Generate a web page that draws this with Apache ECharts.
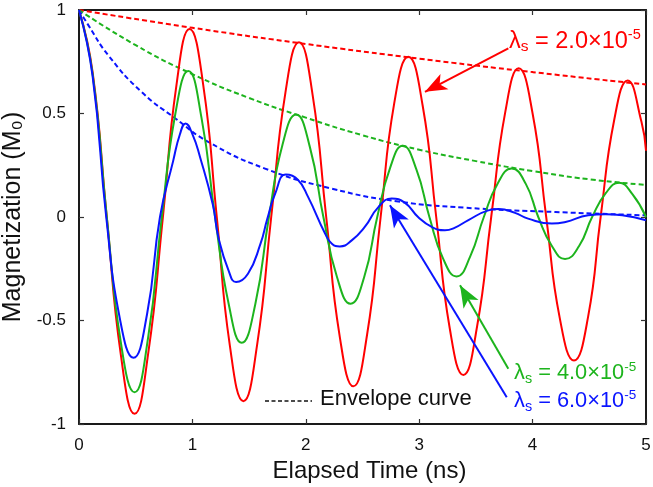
<!DOCTYPE html>
<html>
<head>
<meta charset="utf-8">
<script src="https://cdn.jsdelivr.net/npm/echarts@6/dist/echarts.min.js"></script>
<style>
  html, body { margin: 0; padding: 0; background: #fff; }
  #chart { width: 653px; height: 487px; }
</style>
</head>
<body>
<div id="chart"></div>
<script>
// Magnetization oscillation, [time (ns), M/M0]
const redPoints = [
  [0, 1.0], [0.12, 0.70], [0.245, 0.0], [0.37, -0.67], [0.49, -0.951], [0.61, -0.66],
  [0.74, 0.0], [0.86, 0.64], [0.975, 0.908], [1.095, 0.64], [1.215, 0.0], [1.33, -0.62],
  [1.45, -0.89], [1.57, -0.62], [1.695, 0.0], [1.82, 0.60], [1.94, 0.844], [2.06, 0.59],
  [2.18, 0.0], [2.30, -0.58], [2.42, -0.818], [2.54, -0.57], [2.66, 0.0], [2.78, 0.55],
  [2.904, 0.774], [3.03, 0.54], [3.15, 0.0], [3.27, -0.54], [3.39, -0.763], [3.51, -0.53],
  [3.635, 0.0], [3.76, 0.51], [3.877, 0.718], [4.0, 0.50], [4.12, 0.0], [4.24, -0.49],
  [4.365, -0.693], [4.49, -0.48], [4.60, 0.0], [4.72, 0.47], [4.838, 0.66], [4.96, 0.46],
  [5.0, 0.32]
];
const greenPoints = [
  [0, 1.0], [0.12, 0.69], [0.245, 0.0], [0.37, -0.61], [0.49, -0.847], [0.61, -0.58],
  [0.73, 0.0], [0.85, 0.50], [0.964, 0.705], [1.08, 0.48], [1.20, 0.0], [1.32, -0.42],
  [1.435, -0.608], [1.555, -0.42], [1.675, 0.0], [1.795, 0.35], [1.914, 0.495], [2.035, 0.34],
  [2.155, 0.0], [2.275, -0.29], [2.395, -0.419], [2.515, -0.29], [2.63, 0.0], [2.745, 0.24],
  [2.855, 0.344], [2.975, 0.23], [3.09, 0.0], [3.21, -0.20], [3.33, -0.287], [3.45, -0.19],
  [3.57, 0.0], [3.69, 0.16], [3.815, 0.234], [3.94, 0.16], [4.05, 0.0], [4.17, -0.14],
  [4.286, -0.203], [4.41, -0.14], [4.525, 0.0], [4.645, 0.115], [4.762, 0.165], [4.88, 0.11],
  [5.0, 0.0]
];
const bluePoints = [
  [0, 1.0], [0.12, 0.68], [0.24, 0.0], [0.36, -0.49], [0.48, -0.68], [0.60, -0.47],
  [0.714, 0.0], [0.83, 0.27], [0.89, 0.40], [0.94, 0.452], [1.0, 0.40], [1.067, 0.29],
  [1.18, 0.06], [1.23, -0.10], [1.32, -0.26], [1.385, -0.314], [1.49, -0.274], [1.60, -0.13],
  [1.66, -0.01], [1.73, 0.113], [1.825, 0.205], [1.93, 0.18], [2.02, 0.097], [2.17, -0.08],
  [2.23, -0.129], [2.30, -0.142], [2.405, -0.113], [2.52, -0.048], [2.64, 0.048], [2.757, 0.089],
  [2.875, 0.068], [2.99, 0.0], [3.11, -0.048], [3.227, -0.064], [3.316, -0.051], [3.43, -0.016],
  [3.61, 0.032], [3.70, 0.039], [3.845, 0.02], [3.96, -0.008], [4.17, -0.032], [4.29, -0.024],
  [4.49, 0.008], [4.64, 0.013], [4.79, 0.008], [5.0, -0.016]
];

// Envelope curves
const redEnvelope = [[0, 1.0], [1, 0.914], [2, 0.836], [3, 0.765], [4, 0.70], [5, 0.64]];
const greenEnvelope = [
  [0, 1.0], [0.5, 0.83], [1, 0.69], [1.5, 0.575], [2, 0.48], [2.5, 0.395],
  [3, 0.325], [3.5, 0.27], [4, 0.222], [4.5, 0.182], [5, 0.155]
];
const blueEnvelope = [
  [0, 1.0], [0.082, 0.927], [0.26, 0.78], [0.55, 0.605], [0.85, 0.476], [1.14, 0.363],
  [1.64, 0.234], [2.23, 0.137], [2.816, 0.075], [3.4, 0.045], [4.2, 0.024], [5, 0.008]
];

// Annotation arrows: [from, to] in data coordinates
const redArrow = [[3.786, 0.815], [3.051, 0.605]];
const greenArrow = [[3.786, -0.733], [3.36, -0.33]];
const blueArrow = [[3.772, -0.871], [2.742, 0.057]];

const xTickLabels = ['0', '1', '2', '3', '4', '5'];
const yTickLabels = ['-1', '-0.5', '0', '0.5', '1'];

const RED = '#ff0000';
const GREEN = '#1db41d';
const BLUE = '#0a14ff';
const FONT = '"Liberation Sans", Arial, sans-serif';

function arrowMark(pts, color) {
  return {
    silent: true,
    animation: false,
    symbol: ['none', 'arrow'],
    symbolSize: [13, 22],
    label: { show: false },
    lineStyle: { color: color, width: 2, type: 'solid' },
    emphasis: { disabled: true },
    data: [[{ coord: pts[0] }, { coord: pts[1] }]]
  };
}

function solid(name, data, color, arrow) {
  return {
    name: name, type: 'line', data: data, showSymbol: false, smooth: 0.5,
    lineStyle: { color: color, width: 2 }, z: 3,
    markLine: arrowMark(arrow, color)
  };
}
function dashed(name, data, color) {
  return {
    name: name, type: 'line', data: data, showSymbol: false, smooth: 0.5,
    lineStyle: { color: color, width: 2, type: [5, 3] }, z: 2
  };
}

// λs = v×10^-5 with subscript and superscript
function lambdaLabel(x, y, value, color, size) {
  const rich = {
    m: { fontSize: size, fontFamily: FONT, lineHeight: size * 1.2, fill: color },
    sub: { fontSize: size * 0.66, fontFamily: FONT, lineHeight: size * 0.64, verticalAlign: 'bottom', fill: color },
    sup: { fontSize: size * 0.62, fontFamily: FONT, lineHeight: size * 0.6, verticalAlign: 'top', fill: color }
  };
  return {
    type: 'text', left: x, top: y, z: 10, silent: true,
    style: {
      text: '{m|\u03bb}{sub|s}{m| = ' + value + '\u00d710}{sup|-5}',
      rich: rich, fill: color, font: size + 'px ' + FONT
    }
  };
}

const chart = echarts.init(document.getElementById('chart'), null, { renderer: 'canvas' });

const axisLineStyle = { color: '#1a1a1a', width: 2 };
const tickStyle = { show: true, inside: true, length: 5, lineStyle: { color: '#333', width: 1.2 } };

chart.setOption({
  animation: false,
  backgroundColor: '#ffffff',
  grid: { left: 79, right: 7, top: 10, bottom: 63, containLabel: false, outerBoundsMode: 'none' },
  xAxis: [
    {
      type: 'value', min: 0, max: 5, interval: 1, position: 'bottom',
      name: 'Elapsed Time (ns)', nameLocation: 'middle', nameGap: 32,
      nameTextStyle: { fontSize: 24, fontFamily: FONT, color: '#111', padding: [0, 0, 0, 14] },
      axisLine: { show: true, onZero: false, lineStyle: axisLineStyle },
      axisTick: tickStyle,
      axisLabel: {
        fontSize: 17, fontFamily: FONT, color: '#111', margin: 13,
        formatter: function (v) { return xTickLabels[Math.round(v)]; }
      },
      splitLine: { show: false }
    },
    {
      type: 'value', min: 0, max: 5, interval: 1, position: 'top',
      axisLine: { show: true, onZero: false, lineStyle: axisLineStyle },
      axisTick: tickStyle,
      axisLabel: { show: false }, splitLine: { show: false }
    }
  ],
  yAxis: [
    {
      type: 'value', min: -1, max: 1, interval: 0.5, position: 'left',
      name: 'Magnetization (M\u2080)', nameLocation: 'middle', nameGap: 44, nameRotate: 90,
      nameTextStyle: { fontSize: 25, fontFamily: FONT, color: '#111' },
      axisLine: { show: true, onZero: false, lineStyle: axisLineStyle },
      axisTick: tickStyle,
      axisLabel: {
        fontSize: 17, fontFamily: FONT, color: '#111', margin: 13,
        formatter: function (v) { return yTickLabels[Math.round((v + 1) / 0.5)]; }
      },
      splitLine: { show: false }
    },
    {
      type: 'value', min: -1, max: 1, interval: 0.5, position: 'right',
      axisLine: { show: true, onZero: false, lineStyle: axisLineStyle },
      axisTick: tickStyle,
      axisLabel: { show: false }, splitLine: { show: false }
    }
  ],
  series: [
    dashed('red envelope', redEnvelope, RED),
    dashed('green envelope', greenEnvelope, GREEN),
    dashed('blue envelope', blueEnvelope, BLUE),
    solid('\u03bbs = 2.0e-5', redPoints, RED, redArrow),
    solid('\u03bbs = 4.0e-5', greenPoints, GREEN, greenArrow),
    solid('\u03bbs = 6.0e-5', bluePoints, BLUE, blueArrow)
  ],
  graphic: [
    lambdaLabel(509, 27, '2.0', RED, 23.5),
    lambdaLabel(514, 360, '4.0', GREEN, 21.8),
    lambdaLabel(514, 388, '6.0', BLUE, 21.8),
    {
      type: 'line', silent: true, z: 10,
      shape: { x1: 265, y1: 401, x2: 312, y2: 401 },
      style: { stroke: '#111', lineWidth: 1.6, lineDash: [4, 2.5] }
    },
    {
      type: 'text', left: 320, top: 388, silent: true, z: 10,
      style: { text: 'Envelope curve', fill: '#111', font: '22px ' + FONT }
    }
  ]
});
</script>
</body>
</html>
